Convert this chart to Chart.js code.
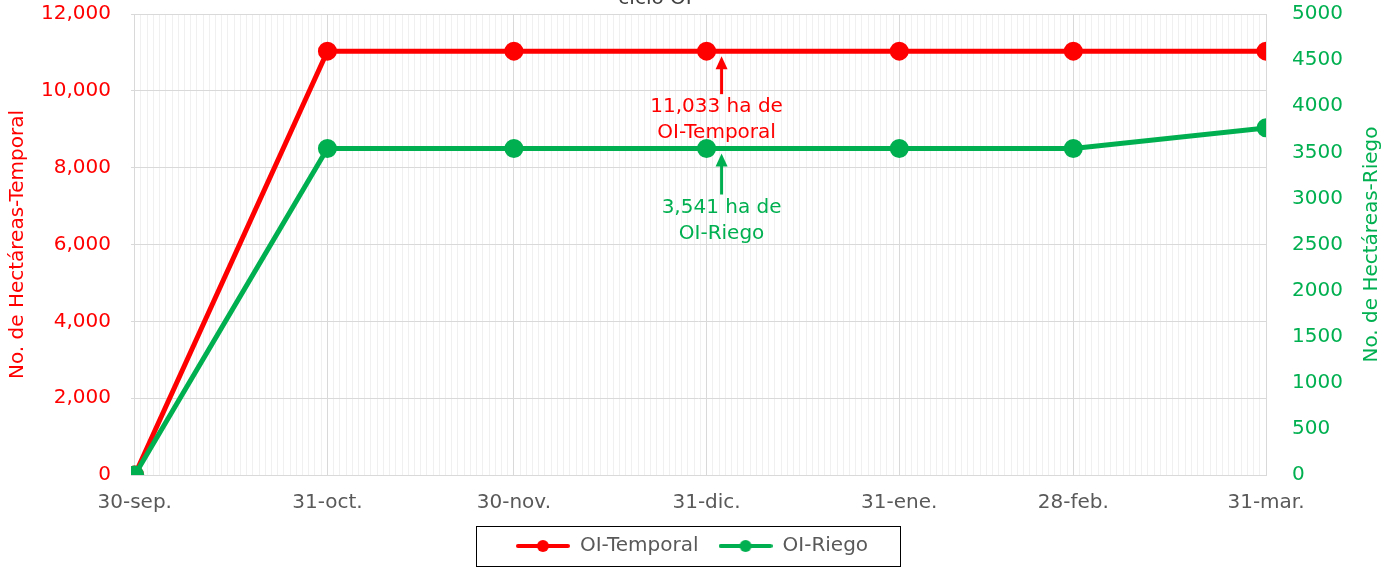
<!DOCTYPE html>
<html>
<head>
<meta charset="utf-8">
<script src="https://cdn.jsdelivr.net/npm/chart.js@4/dist/chart.umd.min.js"></script>
<style>
  html, body { margin: 0; padding: 0; background: #fff; }
</style>
</head>
<body>
<canvas id="chart" width="1384" height="570"></canvas>
<script>
const dateLabels = ['30-sep.', '31-oct.', '30-nov.', '31-dic.', '31-ene.', '28-feb.', '31-mar.'];
const dayOffsets = [0, 31, 61, 92, 123, 151, 182];
const temporal = [0, 11033, 11033, 11033, 11033, 11033, 11033];
const riego = [0, 3541, 3541, 3541, 3541, 3541, 3765];

const RED = '#ff0000';
const GREEN = '#00b050';
const FONT = "'DejaVu Sans', sans-serif";
const FS = 20;

// little line+dot marker for the legend
function legendMarker(color) {
    const c = document.createElement('canvas');
    c.width = 54;
    c.height = 14;
    const g = c.getContext('2d');
    g.strokeStyle = color;
    g.lineWidth = 4;
    g.lineCap = 'round';
    g.beginPath();
    g.moveTo(2, 7);
    g.lineTo(52, 7);
    g.stroke();
    g.fillStyle = color;
    g.beginPath();
    g.arc(27, 7, 6, 0, Math.PI * 2);
    g.fill();
    return c;
}

// arrow pointing up at a point, with two lines of text below it
function drawNote(ctx, px, py, dx, dy, color, lines) {
    const ax = px + 15;
    const tip = py + 5;
    ctx.save();
    ctx.strokeStyle = color;
    ctx.fillStyle = color;
    ctx.lineWidth = 3;
    ctx.beginPath();
    ctx.moveTo(ax, py + 43 + dy);
    ctx.lineTo(ax, tip + 10);
    ctx.stroke();
    ctx.beginPath();
    ctx.moveTo(ax, tip);
    ctx.lineTo(ax - 6, tip + 13);
    ctx.lineTo(ax + 6, tip + 13);
    ctx.closePath();
    ctx.fill();
    ctx.font = FS + 'px ' + FONT;
    ctx.textAlign = 'center';
    ctx.textBaseline = 'middle';
    ctx.fillText(lines[0], px + dx, py + 56 + dy);
    ctx.fillText(lines[1], px + dx, py + 82 + dy);
    ctx.restore();
}

const extras = {
    id: 'extras',
    afterDatasetsDraw(chart) {
        const ctx = chart.ctx;
        const x = chart.scales.x;
        const px = x.getPixelForValue(dayOffsets[3]);
        drawNote(ctx, px, chart.scales.y.getPixelForValue(temporal[3]), 10, 0, RED,
            [temporal[3].toLocaleString('en-US') + ' ha de', 'OI-Temporal']);
        drawNote(ctx, px, chart.scales.y1.getPixelForValue(riego[3]), 15, 3, GREEN,
            [riego[3].toLocaleString('en-US') + ' ha de', 'OI-Riego']);
    },
    afterDraw(chart) {
        const ctx = chart.ctx;
        const area = chart.chartArea;
        ctx.save();
        // title, cut off at the top of the picture
        ctx.font = FS + 'px ' + FONT;
        ctx.fillStyle = '#404040';
        ctx.textAlign = 'center';
        ctx.textBaseline = 'alphabetic';
        ctx.fillText('ciclo OI', 655, 4);

        // right axis title, reading bottom to top
        ctx.translate(1372, (area.top + area.bottom) / 2);
        ctx.rotate(-Math.PI / 2);
        ctx.font = FS + 'px ' + FONT;
        ctx.fillStyle = GREEN;
        ctx.textBaseline = 'middle';
        ctx.fillText('No. de Hectáreas-Riego', 0, 0);
        ctx.restore();

        // box round the legend
        const boxes = chart.legend.legendHitBoxes;
        if (boxes && boxes.length) {
            const first = boxes[0];
            const last = boxes[boxes.length - 1];
            const cy = first.top + first.height / 2;
            const left = first.left - 40;
            const right = last.left + last.width + 32;
            ctx.save();
            ctx.strokeStyle = '#000';
            ctx.lineWidth = 1;
            ctx.strokeRect(Math.round(left) + 0.5, Math.round(cy - 20) + 0.5, Math.round(right - left), 40);
            ctx.restore();
        }
    }
};

const ctx = document.getElementById('chart').getContext('2d');

new Chart(ctx, {
    type: 'line',
    data: {
        datasets: [{
            label: 'OI-Temporal',
            data: dayOffsets.map((d, i) => ({ x: d, y: temporal[i] })),
            borderColor: RED,
            backgroundColor: RED,
            borderWidth: 5,
            pointRadius: 7,
            pointHoverRadius: 7,
            yAxisID: 'y',
            order: 1
        }, {
            label: 'OI-Riego',
            data: dayOffsets.map((d, i) => ({ x: d, y: riego[i] })),
            borderColor: GREEN,
            backgroundColor: GREEN,
            borderWidth: 5,
            pointRadius: 7,
            pointHoverRadius: 7,
            yAxisID: 'y1',
            order: 0
        }]
    },
    options: {
        responsive: false,
        animation: false,
        layout: { padding: { top: 14, left: 0, right: 0, bottom: 4 } },
        plugins: {
            tooltip: { enabled: false },
            legend: {
                position: 'bottom',
                labels: {
                    color: '#595959',
                    font: { family: FONT, size: FS },
                    usePointStyle: true,
                    pointStyleWidth: 54,
                    padding: 20,
                    generateLabels(chart) {
                        return chart.data.datasets.map((ds, i) => ({
                            text: ds.label,
                            fontColor: '#595959',
                            pointStyle: legendMarker(ds.borderColor),
                            lineWidth: 0,
                            strokeStyle: 'transparent',
                            fillStyle: 'transparent',
                            hidden: false,
                            datasetIndex: i
                        }));
                    }
                }
            }
        },
        scales: {
            x: {
                type: 'linear',
                min: -0.6,
                max: 182,
                afterBuildTicks(scale) {
                    const t = [];
                    for (let d = 0; d <= 182; d++) t.push({ value: d });
                    scale.ticks = t;
                },
                afterFit(scale) { scale.height = 41; },
                ticks: {
                    autoSkip: false,
                    maxRotation: 0,
                    padding: 16,
                    color: '#595959',
                    font: { family: FONT, size: FS },
                    callback(value) {
                        const i = dayOffsets.indexOf(value);
                        return i >= 0 ? dateLabels[i] : '';
                    }
                },
                grid: {
                    drawTicks: false,
                    color(c) {
                        return dayOffsets.includes(c.tick.value) ? '#d9d9d9' : '#f0f0f0';
                    }
                },
                border: { color: '#d9d9d9' }
            },
            y: {
                position: 'left',
                min: 0,
                max: 12000,
                afterFit(scale) { scale.width = 131; },
                ticks: {
                    stepSize: 2000,
                    padding: 0,
                    color: RED,
                    font: { family: FONT, size: FS },
                    callback: v => v.toLocaleString('en-US')
                },
                grid: { drawTicks: true, tickLength: 20, tickColor: 'transparent', color: '#d9d9d9' },
                border: { display: false },
                title: {
                    display: true,
                    text: 'No. de Hectáreas-Temporal',
                    color: RED,
                    font: { family: FONT, size: FS },
                    padding: { top: 6, bottom: 0 }
                }
            },
            y1: {
                position: 'right',
                min: 0,
                max: 5000,
                afterFit(scale) { scale.width = 118; },
                ticks: {
                    stepSize: 500,
                    padding: 0,
                    color: GREEN,
                    font: { family: FONT, size: FS },
                    callback: v => String(v)
                },
                grid: { drawOnChartArea: false, drawTicks: true, tickLength: 26, tickColor: 'transparent' },
                border: { display: false }
            }
        }
    },
    plugins: [extras]
});
</script>
</body>
</html>
